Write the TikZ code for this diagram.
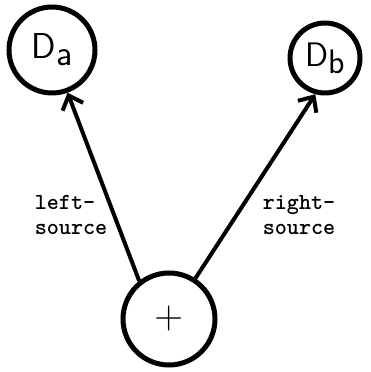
\documentclass[tikz,border=0pt]{standalone}
\usepackage{fontspec}
\usepackage{tikz}
\usetikzlibrary{arrows.meta}

\begin{document}
\begin{tikzpicture}[
		x=1pt,y=1pt,
		cnode/.style={circle,draw,line width=5pt,inner sep=0pt},
		lbl/.style={font=\fontsize{23}{25}\selectfont\ttfamily\bfseries,align=left},
		>={Straight Barb[length=12pt,width=22pt,line width=4pt]}]
	\useasboundingbox (0,0) rectangle (371,372);
	%% define nodes
	\node (da) at (52,322) [cnode,minimum size=86pt] {\fontsize{36}{40}\selectfont\sffamily D\raisebox{-7pt}{a}};
	\node (db) at (325,314) [cnode,minimum size=70pt] {\fontsize{34}{38}\selectfont\sffamily D\raisebox{-7pt}{b}};
	\node (plus) at (169,53) [cnode,minimum size=92pt] {\fontsize{40}{44}\selectfont\sffamily +};
	%% define labels
	\node (ls) at (71,157) [lbl] {left-\\source};
	\node (rs) at (299,157) [lbl] {right-\\source};
	%% define arrows
	\draw[->,line width=4pt] (plus.128) -- (da.-70);
	\draw[->,line width=4pt] (plus.57) -- (db.-105);
\end{tikzpicture}
\end{document}
